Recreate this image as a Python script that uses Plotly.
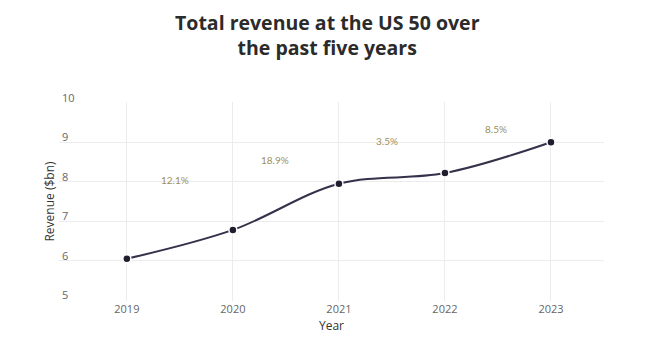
import plotly.graph_objects as go

years = [2019, 2020, 2021, 2022, 2023]
revenue = [6.05, 6.78, 7.95, 8.22, 9.0]
growth_labels = ["12.1%", "18.9%", "3.5%", "8.5%"]
growth_x = [2019.45, 2020.4, 2021.45, 2022.48]
growth_y = [8.05, 8.55, 9.03, 9.33]

# page body has an 8px default margin; size the figure so it ends at the window edge
OFF = 8
W, H = 652 - OFF, 358 - OFF

fig = go.Figure()
fig.add_trace(go.Scatter(
    x=years, y=revenue, mode="lines+markers",
    line=dict(color="#34314a", width=2, shape="spline", smoothing=1),
    marker=dict(color="#1f1d2e", size=8, line=dict(color="white", width=1.5)),
    hoverinfo="x+y", showlegend=False,
))
for t, gx, gy in zip(growth_labels, growth_x, growth_y):
    fig.add_annotation(x=gx, y=gy, text=t, showarrow=False,
                       font=dict(family="Lato", size=10, color="#9c8f5c"))

fig.update_layout(
    width=W, height=H,
    margin=dict(l=59 - OFF, r=48, t=102 - OFF, b=57, autoexpand=False),
    paper_bgcolor="white", plot_bgcolor="white",
    title=dict(text="<b>Total revenue at the US 50 over<br>the past five years</b>",
               x=(325 - OFF) / W, xanchor="center", xref="paper", yref="container",
               y=1 - 22 / H, yanchor="top",
               font=dict(family="Open Sans", size=19.5, color="#2b2b2b")),
    font=dict(family="Open Sans", color="#555"),
    xaxis=dict(range=[2018.36, 2023.5], tickvals=years, ticktext=[str(y) for y in years],
               showgrid=True, gridcolor="#ececec", zeroline=False, showline=False,
               automargin=False,
               tickfont=dict(size=11, color="#666"),
               title=dict(text="Year", font=dict(size=12, color="#333"), standoff=6)),
    yaxis=dict(range=[4.98, 10.02], tickvals=[5, 6, 7, 8, 9, 10],
               showgrid=True, gridcolor="#ececec", zeroline=False, showline=False,
               automargin=False,
               ticklabelposition="inside top", ticklabeloverflow="allow",
               ticklabelshift=3,
               tickfont=dict(size=11, color="#666"),
               title=dict(text="Revenue ($bn)", font=dict(size=12, color="#333"), standoff=4)),
)
fig.write_html("out.html")
